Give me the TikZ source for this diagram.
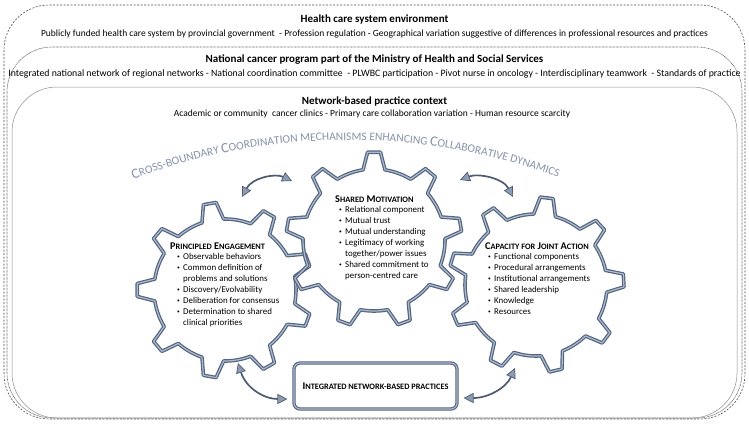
\documentclass[tikz,border=0pt]{standalone}
\usepackage{fontspec}
\setmainfont{Carlito}
\usetikzlibrary{arrows.meta,decorations.text}
\definecolor{geardark}{HTML}{536480}
\definecolor{gearlight}{HTML}{AEBBCD}
\definecolor{arrowc}{HTML}{4C5B71}
\definecolor{arrowfill}{HTML}{8D9CB2}
\definecolor{arctext}{HTML}{8592A9}
\newcommand\SC[2]{{\fontsize{10.3}{12}\selectfont #1}{\fontsize{8.3}{12}\selectfont #2}}
\newcommand\bul{\makebox[6pt][l]{\fontsize{5.5}{5}\selectfont\raisebox{1.5pt}{•}}}
\newcommand\ind{\hspace*{6pt}}
\newcommand\arcbig{\fontsize{14.2}{14}\selectfont\color{arctext}}
\newcommand\arcsmall{\fontsize{11.5}{14}\selectfont\color{arctext}}
\newcommand\drawgear[3]{%
  \begin{scope}[shift={(#1,#2)},y=1pt]
    \draw[gearline] ({#3-8.9}:71) \foreach \k in {0,...,8}{
      -- ({#3+\k*40-4.2}:88) -- ({#3+\k*40+4.2}:88) -- ({#3+\k*40+8.9}:71)
      arc[start angle={#3+\k*40+8.9}, end angle={#3+(\k+1)*40-8.9}, radius=71]} -- cycle;
  \end{scope}}
\tikzset{
  gearline/.style={draw=geardark, line width=1.2pt, double=gearlight, double distance=1.2pt, line join=round},
  titletext/.style={font=\fontsize{11}{13}\selectfont\bfseries, inner sep=0pt},
  subtext/.style={font=\fontsize{9.5}{11}\selectfont, inner sep=0pt},
  listtext/.style={align=left, inner sep=0pt, font=\fontsize{8.9}{11}\selectfont, anchor=north west},
  headtext/.style={inner sep=0pt, font=\bfseries, anchor=west},
  intbox/.style={draw=geardark, double=gearlight, double distance=1.1pt, line width=1.1pt, rounded corners=6pt, minimum width=163pt, minimum height=46pt, font=\bfseries},
  dblarrow/.style={draw=arrowc, line width=1.7pt,
    {Triangle[length=10pt,width=10pt,fill=arrowfill,line width=0.7pt]}-{Triangle[length=10pt,width=10pt,fill=arrowfill,line width=0.7pt]}}
}
\begin{document}
\begin{tikzpicture}[x=1pt,y=-1pt]
\useasboundingbox (0,0) rectangle (749,423);
% context frames
\draw[black!70, line width=0.6pt, dash pattern=on 2pt off 1.5pt, rounded corners=45pt] (4,5) rectangle (745,419);
\draw[black!60, line width=0.6pt, dash pattern=on 0.8pt off 0.6pt, rounded corners=45pt] (7,47) rectangle (742,418);
\draw[black!45, line width=0.5pt, rounded corners=45pt] (12,87) rectangle (737,418);
% titles
\node[titletext] (t1) at (374.5,20) {Health care system environment};
\node[subtext] (s1) at (374.5,34) {Publicly funded health care system by provincial government\ \ - Profession regulation - Geographical variation suggestive of differences in professional resources and practices};
\node[titletext] (t2) at (374.5,60) {National cancer program part of the Ministry of Health and Social Services};
\node[subtext, font=\fontsize{9.8}{11}\selectfont] (s2) at (374.5,74) {Integrated national network of regional networks - National coordination committee\ \ - PLWBC participation - Pivot nurse in oncology - Interdisciplinary teamwork\ \ - Standards of practice};
\node[titletext] (t3) at (374.5,101) {Network-based practice context};
\node[subtext] (s3) at (372,114) {Academic or community\ \ cancer clinics - Primary care collaboration variation - Human resource scarcity};
% arc text
\begin{scope}[shift={(348,750)},y=1pt]
\path[decorate, decoration={text along path, text align=center,
  text={|\arcbig|C|\arcsmall|ROSS-BOUNDARY |\arcbig|C|\arcsmall|OORDINATION MECHANISMS ENHANCING |\arcbig|C|\arcsmall|OLLABORATIVE DYNAMICS}}]
  (111.3:610) arc[start angle=111.3, end angle=69.2, radius=610];
\end{scope}
% gears
\drawgear{225}{290}{20}
\drawgear{374}{240}{90}
\drawgear{536}{285}{3}
% gear texts
\node[headtext] (peh) at (170,246) {\SC{P}{RINCIPLED} \SC{E}{NGAGEMENT}};
\node[listtext] (pel) at (177,253.5) {\bul Observable behaviors\\ \bul Common definition of\\ \ind problems and solutions\\ \bul Discovery/Evolvability\\ \bul Deliberation for consensus\\ \bul Determination to shared\\ \ind clinical priorities};
\node[headtext] (smh) at (335,199) {\SC{S}{HARED} \SC{M}{OTIVATION}};
\node[listtext] (sml) at (339,206.5) {\bul Relational component\\ \bul Mutual trust\\ \bul Mutual understanding\\ \bul Legitimacy of working\\ \ind together/power issues\\ \bul Shared commitment to\\ \ind person-centred care};
\node[headtext] (cjh) at (485,246) {\SC{C}{APACITY FOR} \SC{J}{OINT} \SC{A}{CTION}};
\node[listtext] (cjl) at (488,253.5) {\bul Functional components\\ \bul Procedural arrangements\\ \bul Institutional arrangements\\ \bul Shared leadership\\ \bul Knowledge\\ \bul Resources};
% outcome box
\node[intbox] (inp) at (375.5,386) {\SC{I}{NTEGRATED NETWORK-BASED PRACTICES}};
% arrows
\coordinate (a1s) at (242,197); \coordinate (a1e) at (292,181);
\coordinate (a2s) at (460,180); \coordinate (a2e) at (513,197);
\coordinate (a3s) at (238,363); \coordinate (a3e) at ([shift={(-6,13)}]inp.west);
\coordinate (a4s) at ([shift={(6,12)}]inp.east); \coordinate (a4e) at (515,368);
\draw[dblarrow] (a1s) .. controls (252,178) and (275,173) .. (a1e);
\draw[dblarrow] (a2s) .. controls (478,173) and (503,178) .. (a2e);
\draw[dblarrow] (a3s) .. controls (246,388) and (264,399) .. (a3e);
\draw[dblarrow] (a4s) .. controls (488,398) and (506,388) .. (a4e);
\end{tikzpicture}
\end{document}
